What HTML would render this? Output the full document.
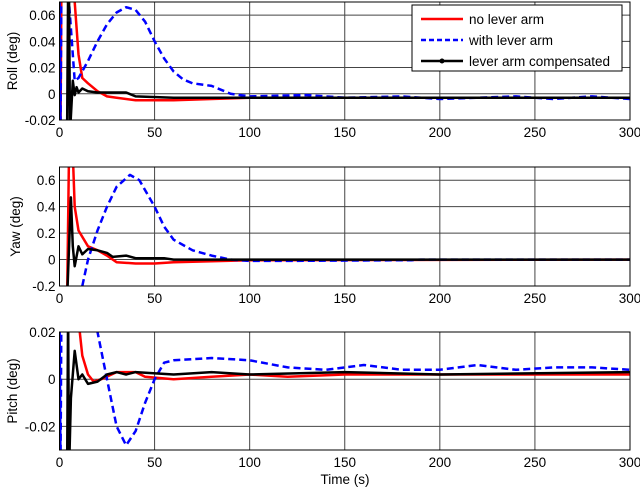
<!DOCTYPE html>
<html><head><meta charset="utf-8"><style>
body{margin:0;background:#fff;}
svg text{font-family:"Liberation Sans",Arial,sans-serif;font-size:13.5px;fill:#000;}
</style></head><body>
<svg id="chart" width="640" height="490" xmlns="http://www.w3.org/2000/svg"></svg>
<script>
const xTicks=[0,50,100,150,200,250,300];
const rollTicks=[-0.02,0,0.02,0.04,0.06];
const yawTicks=[-0.2,0,0.2,0.4,0.6];
const pitchTicks=[-0.02,0,0.02];
const rollT_red=[0,0.5,1,5,8,10,12,15,20,25,30,40,60,80,100,130,160,200,240,270,300];
const rollV_red=[0.08,-0.03,0.08,0.08,0.07,0.03,0.012,0.008,0.002,-0.002,-0.003,-0.005,-0.005,-0.004,-0.003,-0.003,-0.003,-0.003,-0.003,-0.003,-0.003];
const rollT_blue=[0,0.5,1,5,8,10,15,20,25,30,35,40,45,50,55,60,65,70,80,85,90,100,130,150,180,200,220,240,260,280,300];
const rollV_blue=[0.08,-0.03,0.08,0.07,0.01,0.012,0.025,0.04,0.053,0.062,0.066,0.064,0.055,0.04,0.027,0.017,0.011,0.008,0.006,0.003,0,-0.002,-0.001,-0.003,-0.002,-0.004,-0.003,-0.002,-0.004,-0.002,-0.004];
const rollT_black=[4,4.5,5,5.5,7,8,9,10,12,15,20,30,35,40,60,100,150,200,250,300];
const rollV_black=[-0.03,0.08,0.08,-0.03,0.01,-0.001,0.005,0.001,0.004,0.002,0.001,0.001,0.001,-0.002,-0.003,-0.003,-0.003,-0.003,-0.003,-0.003];
const yawT_red=[4,5,7,8,10,15,20,25,30,40,50,60,100,300];
const yawV_red=[-0.3,0.8,0.8,0.4,0.22,0.1,0.07,0.03,-0.02,-0.03,-0.03,-0.02,-0.005,0];
const yawT_blue=[12,15,20,25,30,37,42,50,55,60,70,80,90,100,120,185,190,300];
const yawV_blue=[-0.2,0,0.22,0.4,0.55,0.64,0.6,0.4,0.25,0.15,0.07,0.03,0,-0.01,-0.01,-0.005,0,0];
const yawT_black=[4,6,7,8,10,12,15,20,25,28,35,40,55,60,300];
const yawV_black=[-0.3,0.47,0.1,-0.05,0.1,0.04,0.08,0.07,0.05,0.02,0.03,0.01,0.01,0,0];
const pitchT_red=[10,12,15,18,22,30,40,45,60,80,100,120,150,200,250,300];
const pitchV_red=[0.025,0.01,0.002,-0.001,0,0.003,0.003,0.001,0,0.001,0.002,0.001,0.002,0.002,0.002,0.002];
const pitchT_blue=[0,0.5,1,18,20,25,30,35,40,45,50,55,60,80,100,120,140,160,180,200,220,240,260,280,300];
const pitchV_blue=[0.03,-0.04,0.03,0.03,0.02,0,-0.02,-0.028,-0.022,-0.01,0,0.007,0.008,0.009,0.008,0.005,0.004,0.006,0.004,0.004,0.006,0.004,0.005,0.005,0.004];
const pitchT_black=[4,4.5,5,6,8,9,10,12,15,20,25,30,35,40,60,80,100,150,200,300];
const pitchV_black=[-0.04,0.03,-0.04,-0.008,0.012,0.006,0,0.002,-0.002,-0.001,0.002,0.003,0.002,0.003,0.002,0.003,0.002,0.003,0.002,0.003];

const NS="http://www.w3.org/2000/svg";
const svg=document.getElementById('chart');
const X0=59.5,X1=630;
function sx(t){return X0+(t/300)*(X1-X0);}
function mk(tag,attrs,parent){const e=document.createElementNS(NS,tag);for(const k in attrs)e.setAttribute(k,attrs[k]);(parent||svg).appendChild(e);return e;}
const panels=[
 {name:'roll',top:2,bot:120,ymin:-0.02,ymax:0.07,ticks:rollTicks,label:'Roll (deg)',fmt:v=>v===0?'0':v.toFixed(2),
  series:[[rollT_red,rollV_red],[rollT_blue,rollV_blue],[rollT_black,rollV_black]]},
 {name:'yaw',top:167,bot:286,ymin:-0.2,ymax:0.7,ticks:yawTicks,label:'Yaw (deg)',fmt:v=>v===0?'0':v.toFixed(1),
  series:[[yawT_red,yawV_red],[yawT_blue,yawV_blue],[yawT_black,yawV_black]]},
 {name:'pitch',top:332,bot:450,ymin:-0.03,ymax:0.02,ticks:pitchTicks,label:'Pitch (deg)',fmt:v=>v===0?'0':v.toFixed(2),
  series:[[pitchT_red,pitchV_red],[pitchT_blue,pitchV_blue],[pitchT_black,pitchV_black]]}
];
const styles=[{c:'#ff0000',d:null,n:'no-lever-arm'},{c:'#0000ff',d:'7,4',n:'with-lever-arm'},{c:'#000000',d:null,n:'lever-arm-compensated'}];
panels.forEach((p,i)=>{
 const sy=v=>p.bot-(v-p.ymin)/(p.ymax-p.ymin)*(p.bot-p.top);
 const g=mk('g',{});
 
 
 const cp=mk('clipPath',{id:'clip'+i},g);
 mk('rect',{x:X0,y:p.top,width:X1-X0,height:p.bot-p.top},cp);
 p.ticks.forEach(v=>{
  const y=sy(v);
  const gl=mk('line',{x1:X0,x2:X1,y1:y,y2:y,stroke:'#444','stroke-width':1},g);
  
  
  const t=mk('text',{x:X0-4,y:y+5,'text-anchor':'end'},g);t.textContent=p.fmt(v);
  
  
 });
 xTicks.forEach(v=>{
  const x=sx(v);
  const gl=mk('line',{x1:x,x2:x,y1:p.top,y2:p.bot,stroke:'#444','stroke-width':1},g);
  
  
  const t=mk('text',{x:x,y:p.bot+17,'text-anchor':'middle'},g);t.textContent=v;
  
  
 });
 const yl=mk('text',{x:0,y:0,'text-anchor':'middle',transform:`translate(${i===1?20:17},${(p.top+p.bot)/2}) rotate(-90)`},g);
 yl.textContent=p.label;
 
 
 p.series.forEach((s,k)=>{
  const pts=s[0].map((t,j)=>sx(t).toFixed(1)+','+sy(s[1][j]).toFixed(1)).join(' ');
  const a={points:pts,fill:'none',stroke:styles[k].c,'stroke-width':2.5,'clip-path':`url(#clip${i})`,'stroke-linejoin':'round'};
  if(styles[k].d)a['stroke-dasharray']=styles[k].d;
  const pl=mk('polyline',a,g);
  
  
 });
 const fr=mk('rect',{x:X0,y:p.top,width:X1-X0,height:p.bot-p.top,fill:'none',stroke:'#000','stroke-width':1},g);
 
 
});
const xt=mk('text',{x:345,y:484,'text-anchor':'middle'});xt.textContent='Time (s)';


const lg=mk('g',{});


mk('rect',{x:412,y:5,width:210,height:66,fill:'#fff',stroke:'#000','stroke-width':1},lg);
const labels=['no lever arm','with lever arm','lever arm compensated'];
labels.forEach((l,k)=>{
 const y=19+k*21;
 const a={x1:421,x2:463,y1:y,y2:y,stroke:styles[k].c,'stroke-width':2.5};
 if(styles[k].d)a['stroke-dasharray']='5,3';
 mk('line',a,lg);
 if(k===2)mk('circle',{cx:442,cy:y,r:2.5,fill:'#000'},lg);
 const t=mk('text',{x:469,y:y+5},lg);t.textContent=l;
 
 
});
</script>
</body></html>
